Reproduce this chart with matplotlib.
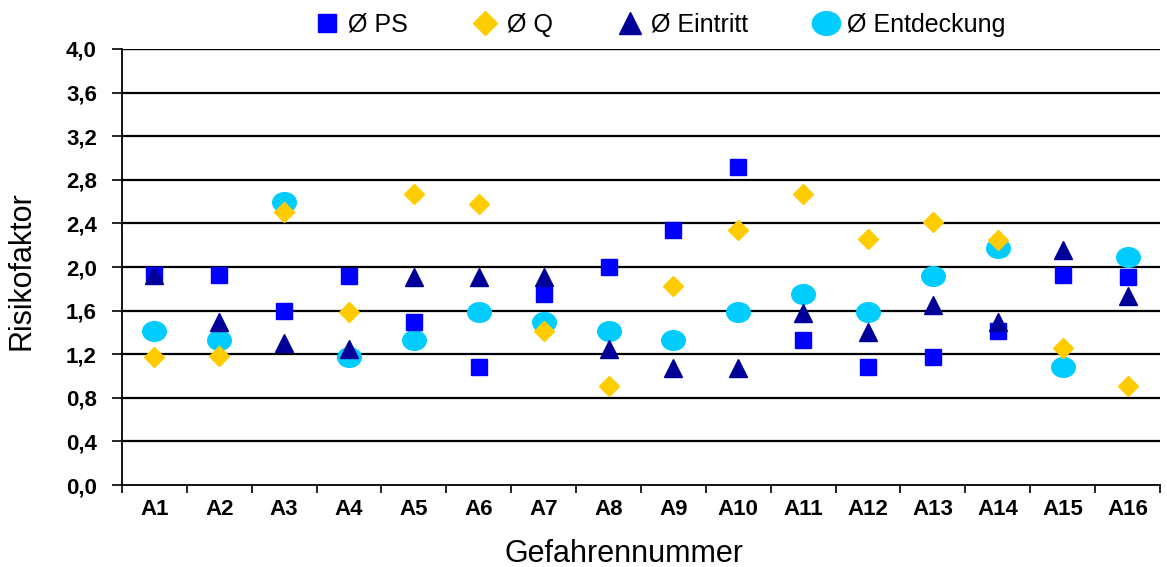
import numpy as np
import matplotlib
matplotlib.use("Agg")
import matplotlib.pyplot as plt
from matplotlib.path import Path
from matplotlib.ticker import FixedLocator, NullFormatter, FuncFormatter

plt.rcParams['font.family'] = ['Liberation Sans', 'DejaVu Sans']

# Gefahren A1..A16, Mittelwerte je Kriterium
gefahren = [f"A{i}" for i in range(1, 17)]
ps = [1.93, 1.93, 1.60, 1.92, 1.50, 1.08, 1.75, 2.00,
      2.34, 2.92, 1.33, 1.08, 1.17, 1.41, 1.93, 1.91]
q = [1.17, 1.18, 2.50, 1.59, 2.67, 2.58, 1.41, 0.91,
     1.83, 2.34, 2.67, 2.26, 2.41, 2.25, 1.26, 0.91]
eintritt = [1.93, 1.50, 1.30, 1.25, 1.91, 1.91, 1.91, 1.25,
            1.07, 1.07, 1.58, 1.40, 1.65, 1.50, 2.16, 1.73]
entdeckung = [1.41, 1.33, 2.60, 1.17, 1.33, 1.59, 1.50, 1.41,
              1.33, 1.59, 1.75, 1.59, 1.92, 2.17, 1.08, 2.09]

x = np.arange(len(gefahren)) + 0.5

# leicht gestauchter Kreis als Marker
circ = Path.unit_circle()
ellipse = Path(circ.vertices * np.array([1.2, 1.0]), circ.codes)

fig = plt.figure(figsize=(11.67, 5.67), dpi=100)
ax = fig.add_axes([0.1045, 0.1446, 0.8895, 0.769])

ax.set_xlim(0, 16)
ax.set_ylim(0, 4.0)

# horizontale Gitterlinien
for yv in np.arange(0.4, 4.01, 0.4):
    ax.axhline(yv, color='black', lw=1.6 if yv < 3.9 else 1.0, zorder=1)

h_ent, = ax.plot(x, entdeckung, ls='none', marker=ellipse, ms=17,
                 color='#00CCFF', mec='#00CCFF', zorder=3, label='Ø Entdeckung')
h_ps, = ax.plot(x, ps, ls='none', marker='s', ms=11,
                color='#0000FF', mec='#0000FF', zorder=4, label='Ø PS')
h_q, = ax.plot(x, q, ls='none', marker='D', ms=10,
               color='#FFCC00', mec='#FFCC00', zorder=5, label='Ø Q')
h_ein, = ax.plot(x, eintritt, ls='none', marker='^', ms=13,
                 color='#000099', mec='#000099', zorder=6, label='Ø Eintritt')

for s in ['top', 'right']:
    ax.spines[s].set_visible(False)
ax.spines['left'].set_linewidth(1.3)
ax.spines['bottom'].set_linewidth(1.3)

ax.set_yticks(np.arange(0, 4.01, 0.4))
ax.yaxis.set_major_formatter(FuncFormatter(lambda v, p: f"{v:.1f}".replace('.', ',')))
ax.tick_params(axis='y', direction='out', length=7, width=1.2, pad=11,
               labelsize=16)
for lab in ax.get_yticklabels():
    lab.set_fontweight('bold')

ax.xaxis.set_major_locator(FixedLocator(np.arange(0, 17)))
ax.xaxis.set_major_formatter(NullFormatter())
ax.xaxis.set_minor_locator(FixedLocator(x))
ax.set_xticks(x, gefahren, minor=True)
ax.tick_params(axis='x', which='major', direction='out', length=6, width=1.2)
ax.tick_params(axis='x', which='minor', length=0, pad=10, labelsize=16)
for lab in ax.get_xticklabels(minor=True):
    lab.set_fontweight('bold')

fig.text(22 / 1167, 1 - 271 / 567, 'Risikofaktor', fontsize=22,
         rotation=90, ha='center', va='center')
fig.text(624 / 1167, 1 - 562 / 567, 'Gefahrennummer', fontsize=22,
         ha='center', va='baseline')

fig.legend(handles=[h_ps, h_q, h_ein, h_ent], loc='center', ncol=4,
           bbox_to_anchor=(660 / 1167, 1 - 25 / 567), frameon=False, fontsize=18,
           markerscale=1.2, handlelength=1.0, handletextpad=0.35,
           columnspacing=2.6, borderaxespad=0)

fig.savefig('out.png', dpi=100)
